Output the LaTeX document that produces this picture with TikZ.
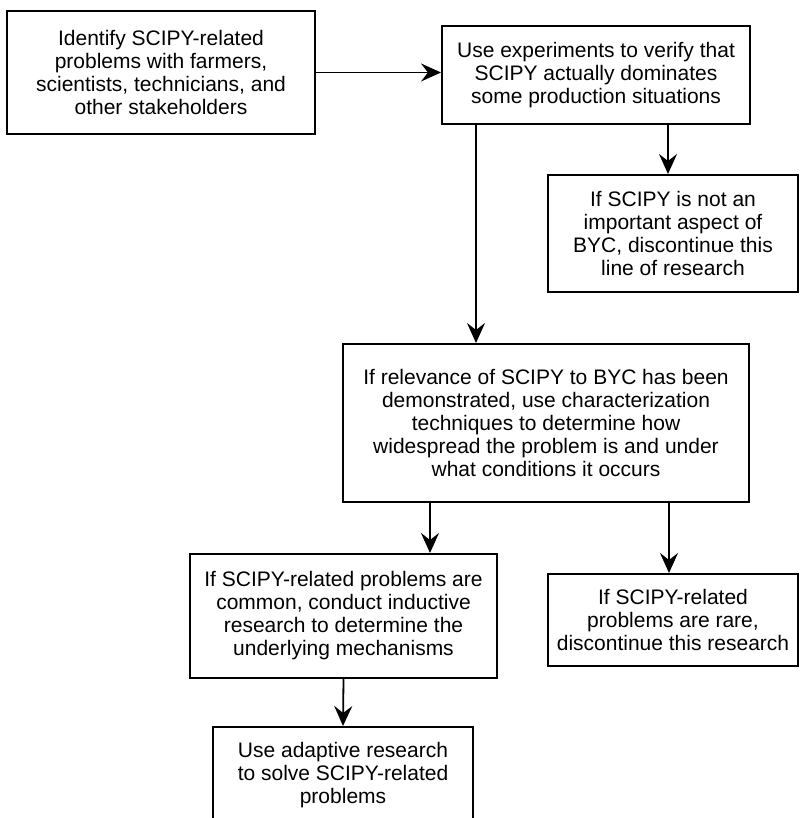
\documentclass[tikz,border=0pt]{standalone}
\usepackage{fontspec}
\setmainfont{Liberation Sans}
\usetikzlibrary{arrows.meta}
\begin{document}
\begin{tikzpicture}[x=1pt, y=-1pt,
    box/.style={draw, line width=2pt, align=center, inner sep=0pt,
      font=\fontsize{21}{23}\selectfont},
    arrow/.style={line width=1.8pt, -{Stealth[length=20pt, width=18pt, inset=7pt]}}]
  \useasboundingbox (0,0) rectangle (800,818);
  \clip (0,0) rectangle (800,818);
  \node[box, minimum width=308pt, minimum height=123pt] (ident) at (161,72.5)
    {Identify SCIPY-related\\problems with farmers,\\scientists, technicians, and\\other stakeholders};
  \node[box, minimum width=308pt, minimum height=98pt] (verify) at (596,75)
    {Use experiments to verify that\\SCIPY actually dominates\\some production situations};
  \node[box, minimum width=250pt, minimum height=117pt] (stop1) at (673,233.5)
    {If SCIPY is not an\\important aspect of\\BYC, discontinue this\\line of research};
  \node[box, minimum width=406pt, minimum height=158pt] (charact) at (546,423)
    {If relevance of SCIPY to BYC has been\\demonstrated, use characterization\\techniques to determine how\\widespread the problem is and under\\what conditions it occurs};
  \node[box, minimum width=307pt, minimum height=124pt] (induct) at (343.5,616)
    {If SCIPY-related problems are\\common, conduct inductive\\research to determine the\\underlying mechanisms};
  \node[box, minimum width=250pt, minimum height=92pt] (stop2) at (673,620)
    {If SCIPY-related\\problems are rare,\\discontinue this research};
  \node[box, minimum width=260pt, minimum height=96pt] (adapt) at (343,775)
    {Use adaptive research\\to solve SCIPY-related\\problems};

  \draw[arrow] (ident.east) -- (ident.east -| verify.west);
  \draw[arrow] ([xshift=-5pt]stop1.north |- verify.south) -- ([xshift=-5pt]stop1.north);
  \draw[arrow] ([xshift=35pt]verify.south west) -- ([xshift=35pt]verify.south west |- charact.north);
  \draw[arrow] ([xshift=88pt]charact.south west) -- ([xshift=88pt]charact.south west |- induct.north);
  \draw[arrow] ([xshift=-4pt]stop2.north |- charact.south) -- ([xshift=-4pt]stop2.north);
  \draw[arrow] (induct.south) -- (adapt.north);
\end{tikzpicture}
\end{document}
